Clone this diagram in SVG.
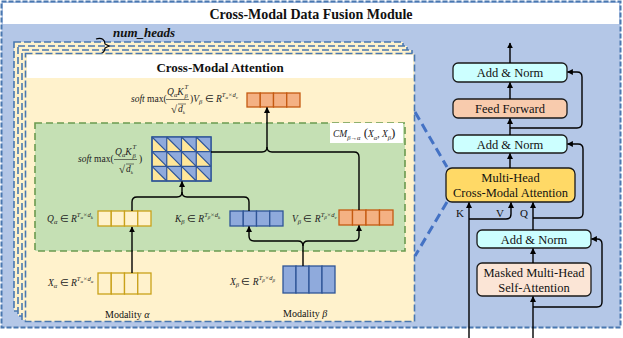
<svg xmlns="http://www.w3.org/2000/svg" width="623" height="338" viewBox="0 0 623 338">
<style>
.t{font-family:"Liberation Serif","Times New Roman",serif;fill:#111}
.b{font-weight:bold}
.m{font-family:"Liberation Serif","Times New Roman",serif;font-style:italic;font-size:9.5px;fill:#222}
.r{font-style:normal}
.s{font-size:6.5px}
.ss{font-size:5px}
.layer{fill:#fff2cc;stroke:#4a78b0;stroke-width:1.6;stroke-dasharray:7 3}
.box{stroke:#1a1a1a;stroke-width:1.3}
.an{fill:#ccffff}
.ln{fill:none;stroke:#000;stroke-width:1.4}
.yc{fill:#fff2cc;stroke:#c9a11a;stroke-width:1.3}
.bc{fill:#8faadc;stroke:#2f5597;stroke-width:1.3}
.oc{fill:#f4b183;stroke:#c55a11;stroke-width:1.3}
.dl{fill:none;stroke:#4472c4;stroke-width:3;stroke-dasharray:9 5}
</style>
<defs>
<marker id="ah" viewBox="0 0 10 10" refX="9" refY="5" markerWidth="6" markerHeight="6" markerUnits="userSpaceOnUse" orient="auto">
<path d="M0,0 L10,5 L0,10 z" fill="#000"/>
</marker>
</defs>

<!-- outer module -->
<g id="module">
<rect x="0" y="0" width="623" height="338" fill="#fff"/>
<rect x="1.5" y="1.5" width="619" height="326" fill="#b4c7e7" stroke="#4a78b0" stroke-width="2" stroke-dasharray="5 2"/>
<rect x="3" y="3" width="616" height="21" fill="#fff"/>
<text class="t b" x="311" y="19" font-size="14" text-anchor="middle">Cross-Modal Data Fusion Module</text>
</g>

<!-- stacked heads -->
<g id="heads">
<rect class="layer" x="14" y="42" width="389" height="269"/>
<rect class="layer" x="18" y="46" width="389" height="270"/>
<rect class="layer" x="22" y="50" width="390" height="270"/>
<path d="M96,39 C102,37 105,40 105,44 L109,46 L105,48 C105,51 103,53 100,54" fill="none" stroke="#000" stroke-width="1.2"/>
<text class="t b" x="113" y="37" font-size="13" font-style="italic">num_heads</text>
</g>

<g id="cross-modal-attention">
<rect x="25.5" y="53.5" width="389" height="268" fill="#fff2cc" stroke="#4a78b0" stroke-width="1.6" stroke-dasharray="7 3"/>
<rect x="27" y="55" width="386" height="23" fill="#fff"/>
<text class="t b" x="220" y="72" font-size="13" text-anchor="middle">Cross-Modal Attention</text>
</g>

<g id="cm-block">
<rect x="35" y="123" width="370" height="128" fill="#c5e0b4" stroke="#6b9a4f" stroke-width="1.6" stroke-dasharray="7 4"/>
<rect x="330" y="123" width="73" height="20" fill="#fff"/>
<text class="m" x="333" y="137" font-size="10">CM<tspan class="s" dy="2.5">β→α</tspan><tspan class="r" dy="-2.5" font-size="13"> (</tspan>X<tspan class="s" dy="2.5">α</tspan><tspan dy="-2.5">, X</tspan><tspan class="s" dy="2.5">β</tspan><tspan class="r" dy="-2.5" font-size="13">)</tspan></text>
</g>

<!-- output of attention -->
<g id="output">
<rect class="oc" x="247" y="93" width="13.25" height="14"/>
<rect class="oc" x="260.25" y="93" width="13.25" height="14"/>
<rect class="oc" x="273.5" y="93" width="13.25" height="14"/>
<rect class="oc" x="286.75" y="93" width="13.25" height="14"/>
<text class="m" x="131" y="102">soft <tspan class="r">max(</tspan></text>
<text class="m" x="167" y="95">Q<tspan class="s" dy="2">α</tspan><tspan dy="-2">K</tspan></text>
<text class="m s" x="184.5" y="89">T</text>
<text class="m s" x="184.5" y="98">β</text>
<line x1="166" y1="99.5" x2="189" y2="99.5" stroke="#222" stroke-width="0.6"/>
<text class="t" x="171" y="113" font-size="11">√</text>
<line x1="178" y1="104" x2="186" y2="104" stroke="#222" stroke-width="0.6"/>
<text class="m" x="178" y="112">d<tspan class="ss" dy="2">k</tspan></text>
<text class="m" x="190" y="102"><tspan class="r">)</tspan>V<tspan class="s" dy="2">β</tspan><tspan class="r" dy="-2"> ∈ </tspan>R<tspan class="s" dy="-5">T</tspan><tspan class="ss" dy="1.5">α</tspan><tspan class="s" dy="-1.5">×d</tspan><tspan class="ss" dy="1.5">v</tspan></text>
</g>

<!-- attention matrix -->
<g id="matrix">
<rect x="152" y="137" width="59" height="44" fill="#ffe699" stroke="#2f5597" stroke-width="1.2"/>
<path fill="#8faadc" d="M152,137 h14.75 v14.67 z M166.75,137 h14.75 v14.67 z M181.5,137 h14.75 v14.67 z M196.25,137 h14.75 v14.67 z M152,151.67 h14.75 v14.67 z M166.75,151.67 h14.75 v14.67 z M181.5,151.67 h14.75 v14.67 z M196.25,151.67 h14.75 v14.67 z M152,166.33 h14.75 v14.67 z M166.75,166.33 h14.75 v14.67 z M181.5,166.33 h14.75 v14.67 z M196.25,166.33 h14.75 v14.67 z"/>
<path fill="none" stroke="#2f5597" stroke-width="1.2" d="M166.75,137 V181 M181.5,137 V181 M196.25,137 V181 M152,151.67 H211 M152,166.33 H211 M152,137 l14.75,14.67 M166.75,137 l14.75,14.67 M181.5,137 l14.75,14.67 M196.25,137 l14.75,14.67 M152,151.67 l14.75,14.67 M166.75,151.67 l14.75,14.67 M181.5,151.67 l14.75,14.67 M196.25,151.67 l14.75,14.67 M152,166.33 l14.75,14.67 M166.75,166.33 l14.75,14.67 M181.5,166.33 l14.75,14.67 M196.25,166.33 l14.75,14.67"/>
<rect x="152" y="137" width="59" height="44" fill="none" stroke="#2f5597" stroke-width="1.4"/>
<text class="m" x="78" y="162">soft <tspan class="r">max(</tspan></text>
<text class="m" x="115" y="155">Q<tspan class="s" dy="2">α</tspan><tspan dy="-2">K</tspan></text>
<text class="m s" x="132.5" y="149">T</text>
<text class="m s" x="132.5" y="158">β</text>
<line x1="114" y1="159.5" x2="137" y2="159.5" stroke="#222" stroke-width="0.6"/>
<text class="t" x="119" y="173" font-size="11">√</text>
<line x1="126" y1="164" x2="134" y2="164" stroke="#222" stroke-width="0.6"/>
<text class="m" x="126" y="172">d<tspan class="ss" dy="2">k</tspan></text>
<text class="t" x="139" y="162" font-size="9.5">)</text>
</g>

<g id="q">
<rect class="yc" x="98" y="211" width="13.25" height="15"/>
<rect class="yc" x="111.25" y="211" width="13.25" height="15"/>
<rect class="yc" x="124.5" y="211" width="13.25" height="15"/>
<rect class="yc" x="137.75" y="211" width="13.25" height="15"/>
<text class="m" x="47" y="222">Q<tspan class="s" dy="2">α</tspan><tspan class="r" dy="-2"> ∈ </tspan>R<tspan class="s" dy="-5">T</tspan><tspan class="ss" dy="1.5">α</tspan><tspan class="s" dy="-1.5">×d</tspan><tspan class="ss" dy="1.5">k</tspan></text>
</g>
<g id="k">
<rect class="bc" x="230" y="211" width="13.25" height="15"/>
<rect class="bc" x="243.25" y="211" width="13.25" height="15"/>
<rect class="bc" x="256.5" y="211" width="13.25" height="15"/>
<rect class="bc" x="269.75" y="211" width="13.25" height="15"/>
<text class="m" x="175" y="222">K<tspan class="s" dy="2">β</tspan><tspan class="r" dy="-2"> ∈ </tspan>R<tspan class="s" dy="-5">T</tspan><tspan class="ss" dy="1.5">β</tspan><tspan class="s" dy="-1.5">×d</tspan><tspan class="ss" dy="1.5">k</tspan></text>
</g>
<g id="v">
<rect class="oc" x="339" y="210" width="13.5" height="15"/>
<rect class="oc" x="352.5" y="210" width="13.5" height="15"/>
<rect class="oc" x="366" y="210" width="13.5" height="15"/>
<rect class="oc" x="379.5" y="210" width="13.5" height="15"/>
<text class="m" x="292" y="222">V<tspan class="s" dy="2">β</tspan><tspan class="r" dy="-2"> ∈ </tspan>R<tspan class="s" dy="-5">T</tspan><tspan class="ss" dy="1.5">β</tspan><tspan class="s" dy="-1.5">×d</tspan><tspan class="ss" dy="1.5">v</tspan></text>
</g>

<g id="x-alpha">
<rect class="yc" x="98" y="273" width="13.25" height="21"/>
<rect class="yc" x="111.25" y="273" width="13.25" height="21"/>
<rect class="yc" x="124.5" y="273" width="13.25" height="21"/>
<rect class="yc" x="137.75" y="273" width="13.25" height="21"/>
<text class="m" x="48" y="286">X<tspan class="s" dy="2">α</tspan><tspan class="r" dy="-2"> ∈ </tspan>R<tspan class="s" dy="-5">T</tspan><tspan class="ss" dy="1.5">α</tspan><tspan class="s" dy="-1.5">×d</tspan><tspan class="ss" dy="1.5">α</tspan></text>
<text class="t" x="105" y="318" font-size="10">Modality <tspan font-style="italic">α</tspan></text>
</g>
<g id="x-beta">
<rect class="bc" x="283" y="266" width="13" height="27"/>
<rect class="bc" x="296" y="266" width="13" height="27"/>
<rect class="bc" x="309" y="266" width="13" height="27"/>
<rect class="bc" x="322" y="266" width="13" height="27"/>
<text class="m" x="230" y="285">X<tspan class="s" dy="2">β</tspan><tspan class="r" dy="-2"> ∈ </tspan>R<tspan class="s" dy="-5">T</tspan><tspan class="ss" dy="1.5">β</tspan><tspan class="s" dy="-1.5">×d</tspan><tspan class="ss" dy="1.5">β</tspan></text>
<text class="t" x="283" y="317" font-size="10">Modality <tspan font-style="italic">β</tspan></text>
</g>

<!-- right transformer -->
<g id="add-norm-3"><rect class="box an" x="453" y="63" width="114" height="19" rx="5"/><text class="t" x="510" y="77" font-size="12.5" text-anchor="middle">Add &amp; Norm</text></g>
<g id="feed-forward"><rect class="box" fill="#f8cbad" x="453" y="99" width="114" height="19" rx="5"/><text class="t" x="510" y="113" font-size="12.5" text-anchor="middle">Feed Forward</text></g>
<g id="add-norm-2"><rect class="box an" x="453" y="135" width="114" height="18" rx="5"/><text class="t" x="510" y="148.5" font-size="12.5" text-anchor="middle">Add &amp; Norm</text></g>
<g id="mh-cross"><rect class="box" fill="#ffd966" x="446" y="168" width="129" height="34" rx="6"/><text class="t" x="510.5" y="182" font-size="12.5" text-anchor="middle">Multi-Head</text><text class="t" x="510.5" y="197" font-size="12.5" text-anchor="middle">Cross-Modal Attention</text></g>
<g id="add-norm-1"><rect class="box an" x="477" y="230" width="114" height="18" rx="5"/><text class="t" x="534" y="243.5" font-size="12.5" text-anchor="middle">Add &amp; Norm</text></g>
<g id="masked-self"><rect class="box" fill="#fbe5d6" x="477" y="263" width="114" height="33" rx="5"/><text class="t" x="534" y="276.5" font-size="12.5" text-anchor="middle">Masked Multi-Head</text><text class="t" x="534" y="291.5" font-size="12.5" text-anchor="middle">Self-Attention</text></g>
<g id="kvq-labels">
<text class="t" x="460" y="217" font-size="11" text-anchor="middle">K</text>
<text class="t" x="500" y="217" font-size="11" text-anchor="middle">V</text>
<text class="t" x="524" y="217" font-size="11" text-anchor="middle">Q</text>
</g>

<!-- connectors -->
<g id="connectors">
<path class="dl" d="M415,112 L447,167"/>
<path class="dl" d="M447,202 L415,256"/>
<path class="ln" marker-end="url(#ah)" d="M132,273 V227"/>
<path class="ln" marker-end="url(#ah)" d="M303,266 V246 Q303,241 298,241 H254 Q249,241 249,236 V226.5"/>
<path class="ln" marker-end="url(#ah)" d="M303,246 Q303,241 308,241 H354 Q359,241 359,236 V225.5"/>
<path class="ln" marker-end="url(#ah)" d="M132,211 V202 Q132,197 137,197 H177 Q182,197 182,192 V181.5"/>
<path class="ln" d="M249,211 V202 Q249,197 244,197 H187 Q182,197 182,192"/>
<path class="ln" marker-end="url(#ah)" d="M211,152 H262 Q267,152 267,147 V107.5"/>
<path class="ln" d="M359,210 V157 Q359,152 354,152 H272 Q267,152 267,147"/>
<path class="ln" marker-end="url(#ah)" d="M510,63 V43"/>
<path class="ln" marker-end="url(#ah)" d="M510,99 V82.5"/>
<path class="ln" marker-end="url(#ah)" d="M510,135 V118.5"/>
<path class="ln" marker-end="url(#ah)" d="M510,128 H577 Q582,128 582,123 V77 Q582,72 577,72 H567.5"/>
<path class="ln" marker-end="url(#ah)" d="M510,168 V153.5"/>
<path class="ln" marker-end="url(#ah)" d="M533,230 V202.5"/>
<path class="ln" marker-end="url(#ah)" d="M533,218 H578 Q583,218 583,213 V149 Q583,144 578,144 H567.5"/>
<path class="ln" marker-end="url(#ah)" d="M469,338 V202.5"/>
<path class="ln" marker-end="url(#ah)" d="M469,219 H506 Q511,219 511,214 V202.5"/>
<path class="ln" marker-end="url(#ah)" d="M533,263 V248.5"/>
<path class="ln" marker-end="url(#ah)" d="M533,338 V296.5"/>
<path class="ln" marker-end="url(#ah)" d="M533,307 H597 Q602,307 602,302 V244 Q602,239 597,239 H591.5"/>
</g>
</svg>
